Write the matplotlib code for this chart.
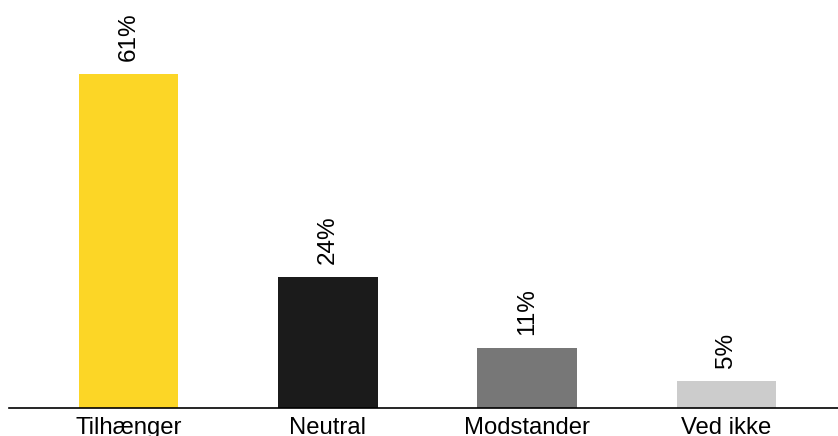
import numpy as np
import matplotlib.pyplot as plt

plt.rcParams['font.family'] = ['Liberation Sans', 'DejaVu Sans']

categories = ['Tilhænger', 'Neutral', 'Modstander', 'Ved ikke']
values = [61, 24, 11, 5]
colors = ['#fcd626', '#1b1b1b', '#777777', '#cccccc']

fig = plt.figure(figsize=(8.38, 4.36), dpi=100)
ax = fig.add_axes([9 / 838, 28 / 436, 829 / 838, 408 / 436])

x = np.arange(len(categories))
ax.bar(x, values, width=0.5, color=colors)

for xi, v in zip(x, values):
    ax.annotate(f'{v}%', (xi, v), xytext=(0, 9), textcoords='offset points',
                rotation=90, ha='center', va='bottom', fontsize=17.5)

ax.set_xlim(-0.6, 3.56)
ax.set_ylim(0, 74.5)
ax.set_xticks(x)
ax.set_xticklabels(categories, fontsize=17.2)
ax.tick_params(axis='x', length=0, pad=6.5)
ax.set_yticks([])
for s in ['top', 'right', 'left']:
    ax.spines[s].set_visible(False)
ax.spines['bottom'].set_linewidth(1.2)

fig.savefig('out.png', dpi=100)
